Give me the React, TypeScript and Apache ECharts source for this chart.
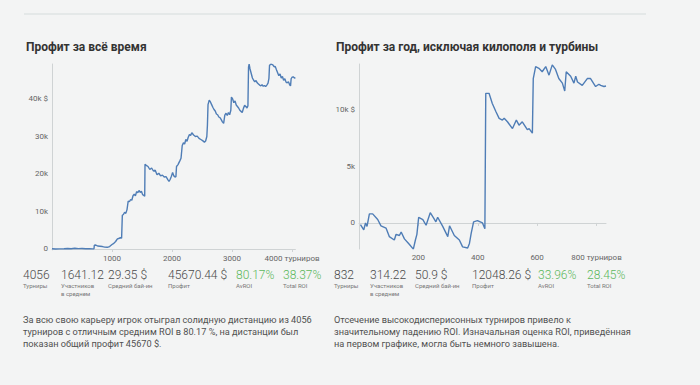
import React, { useEffect, useRef } from "react";
import * as echarts from "echarts";

// ---- Chart 1: profit all time ----
const x1 = [0, 60, 120, 200, 260, 320, 380, 440, 500, 560, 620, 680, 700, 705, 730, 760, 800, 840, 880, 920, 960, 1000, 1030, 1060, 1090, 1110, 1140, 1160, 1168, 1172, 1190, 1210, 1230, 1250, 1270, 1290, 1310, 1330, 1350, 1370, 1390, 1410, 1430, 1450, 1470, 1490, 1510, 1530, 1545, 1550, 1570, 1600, 1630, 1660, 1690, 1720, 1750, 1780, 1810, 1840, 1870, 1900, 1930, 1950, 1970, 1990, 2010, 2030, 2050, 2065, 2075, 2100, 2130, 2150, 2170, 2190, 2210, 2230, 2250, 2270, 2290, 2310, 2330, 2360, 2390, 2420, 2450, 2480, 2510, 2540, 2560, 2580, 2590, 2600, 2620, 2640, 2660, 2680, 2700, 2720, 2740, 2760, 2780, 2800, 2820, 2840, 2860, 2880, 2900, 2920, 2940, 2960, 2980, 2990, 3010, 3030, 3050, 3070, 3090, 3110, 3130, 3150, 3170, 3190, 3210, 3230, 3250, 3265, 3275, 3285, 3300, 3320, 3340, 3360, 3380, 3400, 3420, 3440, 3460, 3480, 3500, 3520, 3540, 3560, 3580, 3600, 3615, 3625, 3650, 3680, 3700, 3720, 3740, 3760, 3780, 3800, 3820, 3840, 3860, 3880, 3900, 3920, 3940, 3960, 3975, 3985, 4000, 4020, 4040, 4056];
const y1 = [50, 0, 30, 80, 150, 60, 200, 100, 150, 60, 100, 40, 80, 1000, 1050, 800, 750, 650, 500, 450, 650, 1200, 1500, 2000, 2700, 2800, 3000, 2900, 3000, 9000, 9200, 9800, 9500, 10500, 12800, 12600, 13200, 13000, 14200, 14600, 14200, 15300, 15000, 15600, 15100, 15400, 14500, 14300, 14100, 22600, 22300, 22000, 21200, 21600, 20800, 21000, 19800, 20200, 19500, 19700, 19200, 19300, 18500, 18000, 18600, 19400, 20400, 19500, 19200, 19300, 22000, 22500, 23500, 24200, 27600, 28300, 28000, 29200, 28700, 29800, 30500, 30300, 31000, 30400, 30000, 30100, 29500, 29200, 28900, 28500, 28800, 30000, 33000, 38500, 39700, 39200, 38500, 37800, 37200, 36800, 36000, 35800, 35200, 35000, 34500, 33900, 33500, 35700, 36200, 35600, 36400, 35800, 37000, 40500, 40000, 39000, 39500, 38400, 38000, 37600, 37000, 36700, 36400, 37500, 38300, 38000, 37600, 38200, 48500, 49300, 48000, 46800, 45600, 45000, 44600, 44900, 44300, 44000, 43700, 43500, 43800, 43400, 43600, 43300, 43700, 44200, 45500, 49000, 49300, 49100, 48600, 48700, 47800, 47000, 46200, 46700, 45600, 46000, 45000, 45400, 44500, 44300, 44600, 43800, 43500, 45400, 45800, 45900, 45600, 45670];

// ---- Chart 2: profit for the year ----
const x2 = [5, 16, 22, 27, 35, 46, 63, 74, 91, 102, 119, 125, 136, 142, 153, 170, 183, 190, 195, 201, 215, 226, 240, 252, 259, 265, 282, 299, 305, 321, 338, 349, 366, 372, 378, 386, 399, 416, 424, 427, 438, 449, 461, 472, 483, 489, 500, 517, 530, 539, 550, 567, 573, 584, 587, 595, 606, 617, 629, 640, 651, 662, 673, 685, 693, 698, 713, 724, 730, 736, 752, 769, 780, 797, 808, 814, 825, 832];
const y2 = [-150, -600, 0, -300, 800, 800, 300, -250, -450, -1200, -1500, -1000, -1100, -800, -1400, -1900, -2300, -1500, -1000, 500, 300, -200, 900, 400, 100, 500, -300, -1200, -250, -1100, -1500, -2100, -2200, -1800, -900, 100, 200, 0, -500, 11400, 11400, 10500, 9800, 9200, 9050, 9200, 8900, 8300, 9050, 8600, 8900, 8200, 8300, 7900, 12700, 13750, 13600, 13300, 13750, 13000, 13900, 13500, 12700, 12300, 11600, 13300, 12900, 12300, 12900, 12400, 12100, 12700, 12700, 12000, 12200, 12100, 12000, 12048];

const xTicks1 = [1000, 2000, 3000, 4000];
const yTicks1 = [0, 10000, 20000, 30000, 40000];
const xTicks2 = [200, 400, 600, 800];
const yTicks2 = [0, 5000, 10000];

const titles = ["Профит за всё время", "Профит за год, исключая килополя и турбины"];

const statValues1 = ["4056", "1641.12", "29.35 $", "45670.44 $", "80.17%", "38.37%"];
const statValues2 = ["832", "314.22", "50.9 $", "12048.26 $", "33.96%", "28.45%"];
const statLabels = ["Турниры", "Участников\nв среднем", "Средний бай-ин", "Профит", "AvROI", "Total ROI"];

const para1 = [
  "За всю свою карьеру игрок отыграл солидную дистанцию из 4056",
  "турниров с отличным средним ROI в 80.17 %, на дистанции был",
  "показан общий профит 45670 $.",
];
const para2 = [
  "Отсечение высокодисперисонных турниров привело к",
  "значительному падению ROI. Изначальная оценка ROI, приведённая",
  "на первом графике, могла быть немного завышена.",
];

const FONT = "Roboto, 'Noto Sans', sans-serif";
const LINE = "#4f7db6";
const AXIS = "#cfd3d4";
const TICKTXT = "#666";

function yFmt(last: number) {
  return (v: number) => {
    if (v === 0) return "0";
    const s = v / 1000 + "k";
    return v === last ? s + " $" : s;
  };
}

function xFmt(last: number) {
  return (v: number) => (v === last ? v + " турниров" : String(v));
}

export default function App() {
  const ref = useRef<HTMLDivElement>(null);
  useEffect(() => {
    if (!ref.current) return;
    const chart = echarts.init(ref.current, undefined, { renderer: "svg" });

    const xAxisBase = (min: number, max: number, ticks: number[], idx: number) => ({
      type: "value",
      gridIndex: idx,
      min,
      max,
      axisLine: { show: true, lineStyle: { color: AXIS, width: 1 } },
      axisTick: { show: true, length: 3, lineStyle: { color: AXIS }, customValues: ticks },
      axisLabel: {
        customValues: ticks,
        formatter: xFmt(ticks[ticks.length - 1]),
        fontSize: 8,
        color: TICKTXT,
        fontFamily: FONT,
        margin: 4,
      },
      splitLine: { show: false },
    });
    const yAxisBase = (min: number, max: number, ticks: number[], idx: number) => ({
      type: "value",
      gridIndex: idx,
      min,
      max,
      axisLine: { show: true, lineStyle: { color: AXIS, width: 1 } },
      axisTick: { show: false },
      axisLabel: {
        customValues: ticks,
        formatter: yFmt(ticks[ticks.length - 1]),
        fontSize: 8,
        color: TICKTXT,
        fontFamily: FONT,
        margin: 4,
      },
      splitLine: { show: false },
    });

    const graphics: any[] = [];
    graphics.push({
      type: "rect",
      shape: { x: 24, y: 13, width: 622, height: 2 },
      style: { fill: "#e4e8e8" },
      silent: true,
    });
    const titleX = [26, 336];
    titles.forEach((t, i) =>
      graphics.push({
        type: "text",
        x: titleX[i],
        y: 47,
        style: { text: t, fontSize: 12, fontWeight: "bold", fill: "#333", fontFamily: FONT, verticalAlign: "middle" },
      })
    );
    const statX1 = [23, 61, 108, 168, 236, 283];
    const statX2 = [334, 370, 415, 472, 538, 587];
    const addStats = (vals: string[], xs: number[]) => {
      vals.forEach((v, i) => {
        graphics.push({
          type: "text",
          x: xs[i],
          y: 275,
          style: {
            text: v,
            fontSize: 12,
            fontWeight: 300,
            fill: i >= 4 ? "#5cb85c" : "#4a4a4a",
            fontFamily: FONT,
            verticalAlign: "middle",
          },
        });
        graphics.push({
          type: "text",
          x: xs[i],
          y: 281,
          style: {
            text: statLabels[i],
            fontSize: 6,
            lineHeight: 8,
            fill: "#777",
            fontFamily: FONT,
            verticalAlign: "top",
          },
        });
      });
    };
    addStats(statValues1, statX1);
    addStats(statValues2, statX2);
    const addPara = (lines: string[], x: number) => {
      lines.forEach((l, i) =>
        graphics.push({
          type: "text",
          x,
          y: 319 + i * 12,
          style: { text: l, fontSize: 9.2, fill: "#505050", fontFamily: FONT, verticalAlign: "middle" },
        })
      );
    };
    addPara(para1, 23);
    addPara(para2, 334);

    chart.setOption({
      animation: false,
      backgroundColor: "#f3f4f4",
      grid: [
        { left: 52, top: 64, width: 243.4, height: 186 },
        { left: 359, top: 64, width: 247, height: 185 },
      ],
      xAxis: [xAxisBase(0, 4056, xTicks1, 0), xAxisBase(0, 832, xTicks2, 1)],
      yAxis: [yAxisBase(-267, 49330, yTicks1, 0), yAxisBase(-2290, 13980, yTicks2, 1)],
      series: [
        {
          type: "line",
          xAxisIndex: 0,
          yAxisIndex: 0,
          data: x1.map((x, i) => [x, y1[i]]),
          showSymbol: false,
          symbol: "none",
          lineStyle: { color: LINE, width: 1.4 },
          silent: true,
        },
        {
          type: "line",
          xAxisIndex: 1,
          yAxisIndex: 1,
          data: x2.map((x, i) => [x, y2[i]]),
          showSymbol: false,
          symbol: "none",
          lineStyle: { color: LINE, width: 1.4 },
          silent: true,
        },
      ],
      graphic: graphics,
    });
    return () => chart.dispose();
  }, []);
  return <div ref={ref} style={{ position: "absolute", left: 0, top: 0, width: 700, height: 385 }} />;
}
